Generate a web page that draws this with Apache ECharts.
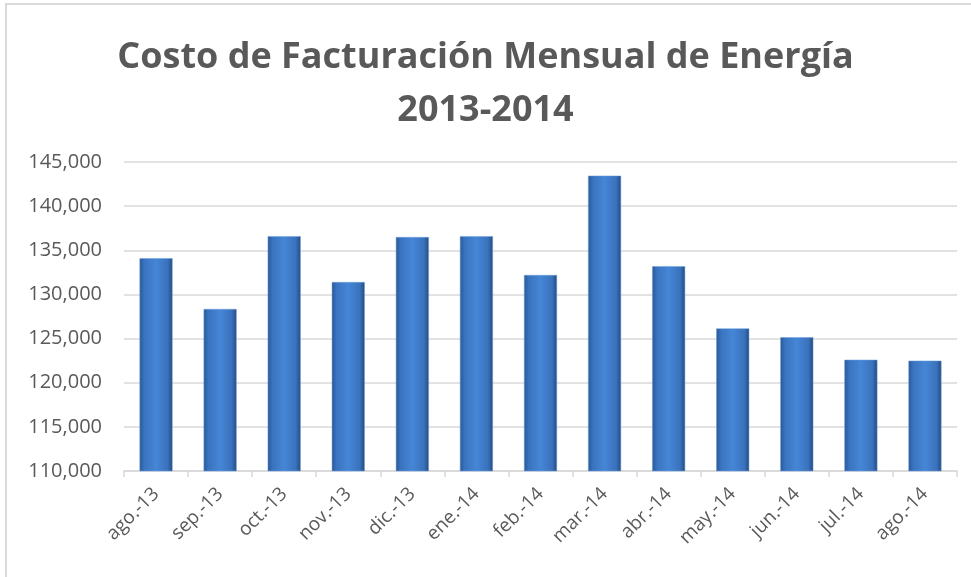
<!DOCTYPE html>
<html>
<head>
<meta charset="utf-8">
<script src="https://cdn.jsdelivr.net/npm/echarts@6/dist/echarts.min.js"></script>
<style>
  body { margin: 0; background: #fff; }
  #main { width: 971px; height: 577px; }
</style>
</head>
<body>
<div id="main"></div>
<script>
// datos
var meses = ['ago.-13', 'sep.-13', 'oct.-13', 'nov.-13', 'dic.-13', 'ene.-14', 'feb.-14',
  'mar.-14', 'abr.-14', 'may.-14', 'jun.-14', 'jul.-14', 'ago.-14'];
var costos = [134100, 128350, 136600, 131400, 136500, 136600, 132200,
  143450, 133200, 126150, 125150, 122600, 122500];
var yMin = 110000;
var yMax = 145000;
var yPaso = 5000;

var myChart = echarts.init(document.getElementById('main'));

var option = {
  animation: false,
  backgroundColor: '#fff',
  textStyle: { fontFamily: 'Open Sans' },
  title: {
    text: 'Costo de Facturación Mensual de Energía\n2013-2014',
    left: 'center',
    top: 26,
    textStyle: {
      fontFamily: 'Open Sans',
      fontWeight: 'bold',
      fontSize: 36,
      lineHeight: 53,
      color: '#595959'
    }
  },
  graphic: [
    {
      type: 'rect',
      shape: { x: 6, y: 4, width: 1200, height: 800 },
      style: { fill: null, stroke: '#d9d9d9', lineWidth: 2 },
      silent: true
    }
  ],
  grid: {
    left: 124,
    right: 14,
    top: 162,
    bottom: 106
  },
  xAxis: {
    type: 'category',
    data: meses,
    axisLine: { lineStyle: { color: '#d9d9d9', width: 1.5 } },
    axisTick: { show: true, length: 6, lineStyle: { color: '#d9d9d9', width: 1.5 } },
    axisLabel: {
      rotate: 45,
      fontSize: 19,
      color: '#595959',
      margin: 20,
      interval: 0
    }
  },
  yAxis: {
    type: 'value',
    min: yMin,
    max: yMax,
    interval: yPaso,
    axisLine: { show: false },
    axisTick: { show: false },
    splitLine: { lineStyle: { color: '#d9d9d9', width: 1.5 } },
    axisLabel: {
      fontSize: 20,
      color: '#595959',
      margin: 22,
      formatter: function (v) { return v.toLocaleString('en-US'); }
    }
  },
  series: [
    {
      name: 'Costo',
      type: 'bar',
      data: costos,
      barWidth: 33,
      itemStyle: {
        color: new echarts.graphic.LinearGradient(0, 0, 1, 0, [
          { offset: 0, color: '#2a5896' },
          { offset: 0.15, color: '#3a74c0' },
          { offset: 0.5, color: '#4586d6' },
          { offset: 0.85, color: '#3a72bc' },
          { offset: 1, color: '#234b80' }
        ]),
        borderColor: '#6f9fdc',
        borderWidth: 0.5
      }
    }
  ]
};

myChart.setOption(option);
</script>
</body>
</html>
